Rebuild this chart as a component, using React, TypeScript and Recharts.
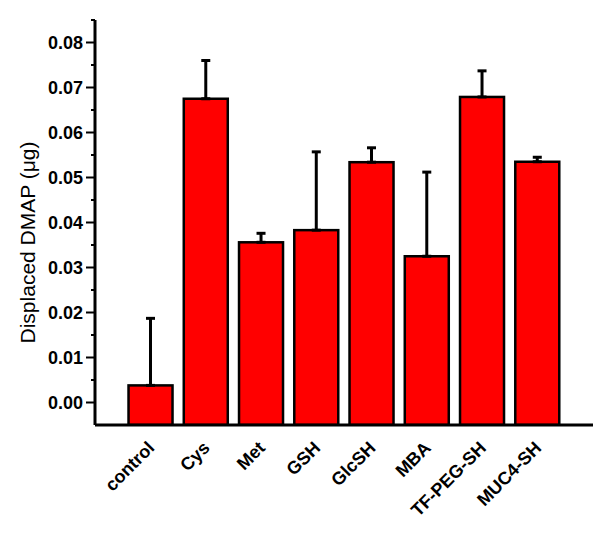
import { BarChart, Bar, XAxis, YAxis, ErrorBar, Label } from 'recharts';

const categories = ['control', 'Cys', 'Met', 'GSH', 'GlcSH', 'MBA', 'TF-PEG-SH', 'MUC4-SH'];
const means = [0.0038, 0.0675, 0.0356, 0.0383, 0.0534, 0.0325, 0.0679, 0.0535];
const upperErrors = [0.0149, 0.0085, 0.002, 0.0174, 0.0032, 0.0187, 0.0058, 0.001];
const yTicks = [0, 0.005, 0.01, 0.015, 0.02, 0.025, 0.03, 0.035, 0.04, 0.045, 0.05, 0.055, 0.06, 0.065, 0.07, 0.075, 0.08, 0.085];
const majorTicks = [0, 0.01, 0.02, 0.03, 0.04, 0.05, 0.06, 0.07, 0.08];

const FONT = '"Liberation Sans", Arial, sans-serif';

const data = categories.map((name, i) => ({
    name,
    value: means[i],
    err: [0, upperErrors[i]]
}));

const YTick = (props: any) => {
    const { x, y, payload } = props;
    const isMajor = majorTicks.some((t) => Math.abs(t - payload.value) < 1e-9);
    return (
        <g>
            <line x1={isMajor ? x + 3 : x + 8} x2={x + 12} y1={y} y2={y} stroke="#000" strokeWidth={2} />
            {isMajor && (
                <text x={x} y={y} dy="0.35em" textAnchor="end" fontFamily={FONT} fontWeight="bold" fontSize={18} fill="#000">
                    {payload.value.toFixed(2)}
                </text>
            )}
        </g>
    );
};

const XTick = (props: any) => {
    const { x, y, payload } = props;
    return (
        <g transform={`translate(${x + 5}, ${y}) rotate(-45)`}>
            <text x={0} y={0} textAnchor="end" fontFamily={FONT} fontWeight="bold" fontSize={18} fill="#000">
                {payload.value}
            </text>
        </g>
    );
};

// bars in the original start at the bottom of the axis, not at zero
const BarShape = (props: any) => {
    const { x, y, width, background } = props;
    const bottom = background.y + background.height;
    return <rect x={x} y={y} width={width} height={bottom - y} fill="#FF0000" stroke="#000" strokeWidth={2.5} />;
};

const YLabel = (props: any) => {
    const { viewBox } = props;
    const cx = 27;
    const cy = viewBox.y + viewBox.height / 2 + 20;
    return (
        <text
            x={cx}
            y={cy}
            textAnchor="middle"
            dominantBaseline="central"
            fontFamily={FONT}
            fontSize={21}
            fill="#000"
            transform={`rotate(-90, ${cx}, ${cy})`}
        >
            Displaced DMAP (μg)
        </text>
    );
};

export default function App() {
    return (
        <div style={{ position: 'absolute', left: 0, top: 0, background: '#fff' }}>
            <BarChart
                width={601}
                height={534}
                data={data}
                margin={{ top: 20, right: 8, bottom: 0, left: 0 }}
                barCategoryGap="10%"
            >
                <XAxis
                    dataKey="name"
                    height={109}
                    interval={0}
                    tickLine={false}
                    tickSize={0}
                    tickMargin={24}
                    tick={<XTick />}
                    axisLine={{ stroke: '#000', strokeWidth: 3 }}
                    padding={{ left: 28, right: 28 }}
                />
                <YAxis
                    type="number"
                    width={95}
                    domain={[-0.005, 0.085]}
                    ticks={yTicks}
                    interval={0}
                    allowDataOverflow
                    tickLine={false}
                    tickSize={9}
                    tickMargin={3}
                    tick={<YTick />}
                    axisLine={{ stroke: '#000', strokeWidth: 3 }}
                >
                    <Label content={<YLabel />} />
                </YAxis>
                <Bar dataKey="value" fill="#FF0000" stroke="#000" strokeWidth={2.5} shape={<BarShape />} isAnimationActive={false}>
                    <ErrorBar dataKey="err" direction="y" width={4.5} stroke="#000" strokeWidth={3} />
                </Bar>
            </BarChart>
        </div>
    );
}
